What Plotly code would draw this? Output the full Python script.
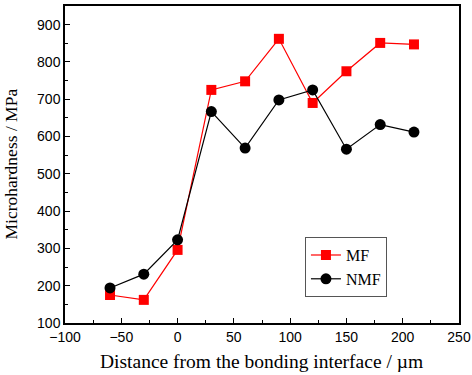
import plotly.graph_objects as go

x_vals = [-60, -30, 0, 30, 60, 90, 120, 150, 180, 210]
mf_vals = [175, 162, 296, 725, 748, 862, 690, 775, 851, 847]
nmf_vals = [194, 231, 323, 667, 569, 698, 725, 566, 632, 612]

fig = go.Figure()
fig.add_trace(go.Scatter(x=x_vals, y=mf_vals, name="MF", mode="lines+markers",
                         line=dict(color="#FF0000", width=1.2),
                         marker=dict(symbol="square", size=10, color="#FF0000")))
fig.add_trace(go.Scatter(x=x_vals, y=nmf_vals, name="NMF", mode="lines+markers",
                         line=dict(color="#000000", width=1.2),
                         marker=dict(symbol="circle", size=11, color="#000000")))

axis_common = dict(showgrid=False, zeroline=False, showline=True, linecolor="#000", linewidth=1.5,
                   mirror=True, ticks="inside", ticklen=5, tickcolor="#000", tickwidth=1,
                   automargin=False,
                   tickfont=dict(family="Liberation Sans, Arial", size=14, color="#000"))

fig.update_xaxes(range=[-100, 250], dtick=50, tick0=0,
                 minor=dict(ticks="inside", ticklen=3, dtick=25, tickcolor="#000"),
                 **axis_common)
fig.update_yaxes(range=[100, 950], dtick=100, tick0=0,
                 minor=dict(ticks="inside", ticklen=3, dtick=50, tickcolor="#000"),
                 **axis_common)

title_font = dict(family="Liberation Serif, Times New Roman", color="#000")
fig.add_annotation(text="Distance from the bonding interface / µm", xref="paper", yref="paper",
                   x=0.4975, y=-0.12, xanchor="center", yanchor="middle", showarrow=False,
                   font=dict(size=19.5, **title_font))
fig.add_annotation(text="Microhardness / MPa", xref="paper", yref="paper",
                   x=-0.138, y=0.502, xanchor="center", yanchor="middle", showarrow=False,
                   textangle=-90, font=dict(size=17.5, **title_font))

fig.update_layout(width=472, height=375, margin=dict(l=65, r=13, t=6, b=52),
                  plot_bgcolor="white", paper_bgcolor="white",
                  legend=dict(x=0.609, y=0.271, xanchor="left", yanchor="top",
                              bordercolor="#555", borderwidth=1, bgcolor="white",
                              font=dict(family="Liberation Serif, Times New Roman", size=16, color="#000"),
                              tracegroupgap=0, itemsizing="trace", itemwidth=30))

fig.write_html("out.html", config={"displayModeBar": False},
               post_script="document.body.style.margin='0';")
